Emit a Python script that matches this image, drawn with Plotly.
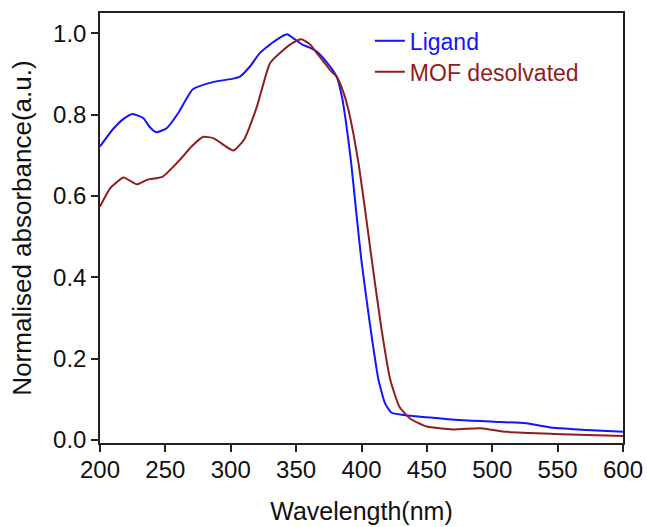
import plotly.graph_objects as go

ligand_wl = [200, 210, 218, 225, 233, 238, 243, 251, 260, 271, 287, 302, 307, 315, 322, 333, 343, 348, 355, 360, 366, 373, 381, 385, 388, 392, 396, 400, 406, 413, 418, 423, 432, 450, 475, 501, 526, 547, 572, 600]
ligand_abs = [0.722, 0.765, 0.790, 0.802, 0.792, 0.770, 0.757, 0.767, 0.805, 0.863, 0.881, 0.889, 0.894, 0.920, 0.951, 0.980, 0.998, 0.988, 0.972, 0.966, 0.955, 0.931, 0.894, 0.845, 0.785, 0.685, 0.560, 0.440, 0.295, 0.148, 0.090, 0.067, 0.0615, 0.056, 0.049, 0.045, 0.041, 0.030, 0.0246, 0.020]

mof_wl = [200, 208, 218, 228, 236, 248, 261, 270, 279, 287, 295, 302, 310, 320, 330, 340, 348, 354, 361, 366, 371, 376, 381, 386, 390, 394, 398, 403, 408, 415, 422, 429, 437, 450, 470, 491, 511, 547, 600]
mof_abs = [0.574, 0.620, 0.646, 0.629, 0.640, 0.648, 0.689, 0.722, 0.746, 0.742, 0.725, 0.712, 0.738, 0.820, 0.927, 0.959, 0.978, 0.986, 0.972, 0.951, 0.931, 0.910, 0.894, 0.857, 0.812, 0.750, 0.675, 0.560, 0.440, 0.279, 0.148, 0.082, 0.053, 0.033, 0.026, 0.029, 0.020, 0.015, 0.010]

x_ticks = [200, 250, 300, 350, 400, 450, 500, 550, 600]
y_ticks = [0.0, 0.2, 0.4, 0.6, 0.8, 1.0]

font = "Liberation Sans, Arial, sans-serif"
blue = "#1414ff"
red = "#921c1c"

fig = go.Figure()
fig.add_trace(go.Scatter(x=ligand_wl, y=ligand_abs, mode="lines", name="Ligand", legend="legend",
                         line=dict(color=blue, width=2, shape="spline", smoothing=0.5)))
fig.add_trace(go.Scatter(x=mof_wl, y=mof_abs, mode="lines", name="MOF desolvated", legend="legend2",
                         line=dict(color=red, width=2, shape="spline", smoothing=0.5)))

axis_common = dict(showline=True, linecolor="#222222", linewidth=1.5, mirror=True,
                   ticks="outside", ticklen=7, tickwidth=1.5, tickcolor="#222222",
                   showgrid=False, zeroline=False,
                   tickfont=dict(family=font, size=24, color="#111111"))

fig.update_xaxes(range=[200, 600], tickvals=x_ticks, ticktext=[str(v) for v in x_ticks],
                 ticklabelstandoff=-3,
                 title=dict(text="Wavelength(nm)", font=dict(family=font, size=25, color="#111111"), standoff=21),
                 **axis_common)
fig.update_yaxes(range=[-0.0074, 1.0504], tickvals=y_ticks, ticktext=[f"{v:.1f}" for v in y_ticks],
                 title=dict(text="Normalised absorbance(a.u.)", font=dict(family=font, size=26, color="#111111"), standoff=14),
                 **axis_common)

legend_common = dict(xanchor="left", yanchor="middle", bgcolor="rgba(0,0,0,0)", borderwidth=0)
fig.update_layout(
    width=647, height=527,
    margin=dict(l=100, r=24, t=13, b=84, autoexpand=False),
    paper_bgcolor="white", plot_bgcolor="white",
    showlegend=True,
    legend=dict(x=0.516, y=0.9356, font=dict(family=font, size=23, color=blue), **legend_common),
    legend2=dict(x=0.516, y=0.8635, font=dict(family=font, size=23, color=red), **legend_common),
)

fig.write_html("out.html",
               config={"displayModeBar": False},
               post_script="document.body.style.margin='0';document.body.style.overflow='hidden';")
